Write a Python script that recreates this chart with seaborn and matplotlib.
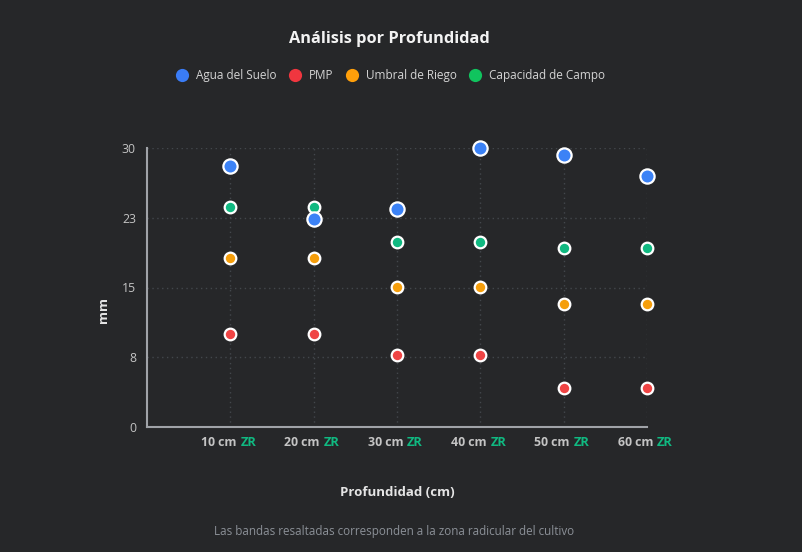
import matplotlib
matplotlib.use("Agg")
import matplotlib.pyplot as plt
from matplotlib.lines import Line2D
import seaborn as sns
import pandas as pd

categories = ["10 cm", "20 cm", "30 cm", "40 cm", "50 cm", "60 cm"]
agua_suelo = [28.1, 22.4, 23.4, 30.0, 29.3, 27.0]
pmp = [10.0, 10.0, 7.7, 7.7, 4.2, 4.2]
umbral_riego = [18.2, 18.2, 15.05, 15.05, 13.2, 13.2]
capacidad_campo = [23.65, 23.65, 19.9, 19.9, 19.25, 19.25]
y_ticks = [0, 7.5, 15, 22.5, 30]
y_tick_labels = ["0", "8", "15", "23", "30"]
zone_label = "ZR"

BG = "#262729"
sns.set_theme(style="dark")
plt.rcParams["font.family"] = ["Open Sans", "DejaVu Sans"]

fig = plt.figure(figsize=(8.03, 5.52), dpi=100, facecolor=BG)
ax = fig.add_axes([147 / 803, 1 - 427 / 552, 500 / 803, 279 / 552])
ax.set_facecolor(BG)

x = list(range(len(categories)))
series = [
    ("PMP", pmp, "#ef4444", 70),
    ("Umbral de Riego", umbral_riego, "#f59e0b", 70),
    ("Capacidad de Campo", capacidad_campo, "#10b981", 70),
    ("Agua del Suelo", agua_suelo, "#3b82f6", 105),
]
for i, (name, vals, col, s) in enumerate(series):
    df = pd.DataFrame({"x": x, "y": vals})
    sns.scatterplot(data=df, x="x", y="y", ax=ax, color=col, s=s,
                    edgecolor="white", linewidth=1.6, zorder=3 + i, legend=False,
                    clip_on=False)

ax.set_xlim(-1, 5)
ax.set_ylim(0, 30)
ax.set_xticks(x)
ax.set_xticklabels([])
ax.set_yticks(y_ticks)
ax.set_yticklabels(y_tick_labels)
ax.tick_params(axis="y", colors="#c4c4c4", labelsize=8.8, length=0, pad=8)
ax.tick_params(axis="x", length=0)
ax.grid(True, color="#43474c", linestyle=(0, (1, 2.5)), linewidth=1)
for sp in ["top", "right"]:
    ax.spines[sp].set_visible(False)
for sp in ["left", "bottom"]:
    ax.spines[sp].set_visible(True)
    ax.spines[sp].set_color("#a0a3a8")
    ax.spines[sp].set_linewidth(1.5)

for xi, cat in zip(x, categories):
    ax.annotate(cat, xy=(xi, 0), xycoords=("data", "axes fraction"),
                xytext=(6, -16), textcoords="offset pixels", ha="right", va="center",
                color="#c4c4c4", fontsize=8.8, fontweight="bold")
    ax.annotate(zone_label, xy=(xi, 0), xycoords=("data", "axes fraction"),
                xytext=(10, -16), textcoords="offset pixels", ha="left", va="center",
                color="#10b981", fontsize=9.3, fontweight="bold")

ax.set_xlabel("")
ax.set_ylabel("")
fig.text(103 / 803, 1 - 310 / 552, "mm", rotation=90, ha="center", va="center",
         color="#e5e5e5", fontsize=9.5, fontweight="bold")
fig.text(397 / 803, 1 - 492 / 552, "Profundidad (cm)", ha="center", va="center",
         color="#e5e5e5", fontsize=9.5, fontweight="bold")
fig.text(394 / 803, 1 - 532 / 552,
         "Las bandas resaltadas corresponden a la zona radicular del cultivo",
         ha="center", va="center", color="#8b9097", fontsize=8.4)
fig.text(389 / 803, 1 - 39 / 552, "Análisis por Profundidad", ha="center", va="center",
         color="#f2f2f2", fontsize=11.8, fontweight="bold")

legend_items = [("Agua del Suelo", "#3a7cf6"), ("PMP", "#f0363f"),
                ("Umbral de Riego", "#ff9f0a"), ("Capacidad de Campo", "#10c45e")]
handles = [Line2D([0], [0], marker="o", linestyle="", markersize=9.5,
                  markerfacecolor=c, markeredgewidth=0) for _, c in legend_items]
leg = fig.legend(handles, [n for n, _ in legend_items], loc="center",
                 bbox_to_anchor=(390 / 803, 1 - 76 / 552), ncol=4, frameon=False,
                 handletextpad=0.55, columnspacing=1.0, fontsize=8.5, handlelength=1.2)
for t in leg.get_texts():
    t.set_color("#d4d4d4")

fig.savefig("out.png", dpi=100, facecolor=BG)
